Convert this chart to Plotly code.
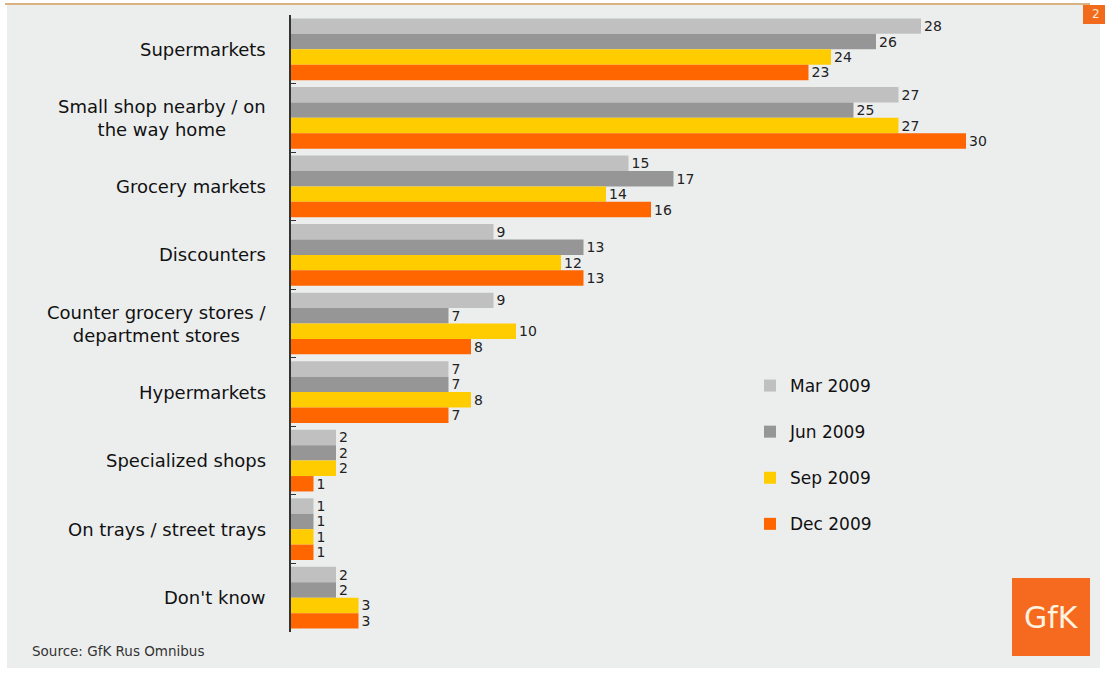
import plotly.graph_objects as go

categories = ["Supermarkets", "Small shop nearby / on<br>the way home", "Grocery markets",
              "Discounters", "Counter grocery stores /<br>department stores", "Hypermarkets",
              "Specialized shops", "On trays / street trays", "Don't know"]
series_names = ["Mar 2009", "Jun 2009", "Sep 2009", "Dec 2009"]
mar_2009 = [28, 27, 15, 9, 9, 7, 2, 1, 2]
jun_2009 = [26, 25, 17, 13, 7, 7, 2, 1, 2]
sep_2009 = [24, 27, 14, 12, 10, 8, 2, 1, 3]
dec_2009 = [23, 30, 16, 13, 8, 7, 1, 1, 3]
colors = ["#c0c0c0", "#969696", "#ffcc00", "#ff6600"]

W, H = 1105, 675
L, R, T, B = 291, 27, 15, 43
PW, PH = W - L - R, H - T - B

def px(p):
    return (p - L) / PW

def py(p):
    return (H - B - p) / PH

FONT = "DejaVu Sans"
fig = go.Figure()
for name, vals, col in zip(series_names, [mar_2009, jun_2009, sep_2009, dec_2009], colors):
    fig.add_trace(go.Bar(
        y=categories, x=vals, name=name, orientation="h",
        marker=dict(color=col, line=dict(width=0)),
        text=[str(v) for v in vals], textposition="outside", constraintext="none",
        textfont=dict(size=14, color="#222222", family=FONT),
        cliponaxis=False, legendgroup=name,
    ))

shapes = [
    dict(type="rect", xref="paper", yref="paper", x0=px(7), x1=px(1100), y0=py(668), y1=py(5),
         fillcolor="#eceeee", line=dict(width=0), layer="below"),
    dict(type="line", xref="paper", yref="paper", x0=px(5), x1=px(1090), y0=py(4), y1=py(4),
         line=dict(color="#d9b27f", width=2)),
    dict(type="rect", xref="paper", yref="paper", x0=px(1083), x1=px(1105), y0=py(24), y1=py(5),
         fillcolor="#f26b1d", line=dict(width=0)),
    dict(type="rect", xref="paper", yref="paper", x0=px(1012), x1=px(1090), y0=py(656), y1=py(578),
         fillcolor="#f56a1e", line=dict(width=0)),
]

annotations = [
    dict(text=c, x=px(268), xref="paper", y=c, yref="y", xanchor="right", yanchor="middle",
         align="center", showarrow=False, font=dict(size=18, color="#111111", family=FONT))
    for c in categories
]
annotations += [
    dict(text="Source: GfK Rus Omnibus", x=px(30), y=py(651), xref="paper", yref="paper",
         xanchor="left", yanchor="middle", showarrow=False,
         font=dict(size=13.5, color="#333333", family=FONT)),
    dict(text="2", x=px(1096), y=py(14), xref="paper", yref="paper", xanchor="center",
         yanchor="middle", showarrow=False, font=dict(size=12, color="#ffe8d0", family=FONT)),
    dict(text="GfK", x=px(1051), y=py(617), xref="paper", yref="paper", xanchor="center",
         yanchor="middle", showarrow=False, font=dict(size=30, color="#fff3e0", family=FONT)),
]

fig.update_layout(
    width=W, height=H,
    margin=dict(l=L, r=R, t=T, b=B),
    paper_bgcolor="#ffffff", plot_bgcolor="rgba(0,0,0,0)",
    barmode="group", bargap=0.1, bargroupgap=0,
    showlegend=True,
    legend=dict(x=px(750), y=py(368), xanchor="left", yanchor="top",
                bgcolor="rgba(0,0,0,0)", font=dict(size=17, color="#111111", family=FONT),
                tracegroupgap=21, traceorder="grouped"),
    shapes=shapes, annotations=annotations,
    xaxis=dict(range=[0, PW / 22.5], visible=False, fixedrange=True),
    yaxis=dict(autorange="reversed", showticklabels=False, showgrid=False,
               showline=True, linecolor="#333333", linewidth=1.5,
               ticks="inside", tickson="boundaries", ticklen=5, tickcolor="#333333",
               zeroline=False),
    font=dict(family=FONT),
)
fig.write_html("out.html", post_script="document.body.style.margin='0px';",
               config={"displayModeBar": False})
